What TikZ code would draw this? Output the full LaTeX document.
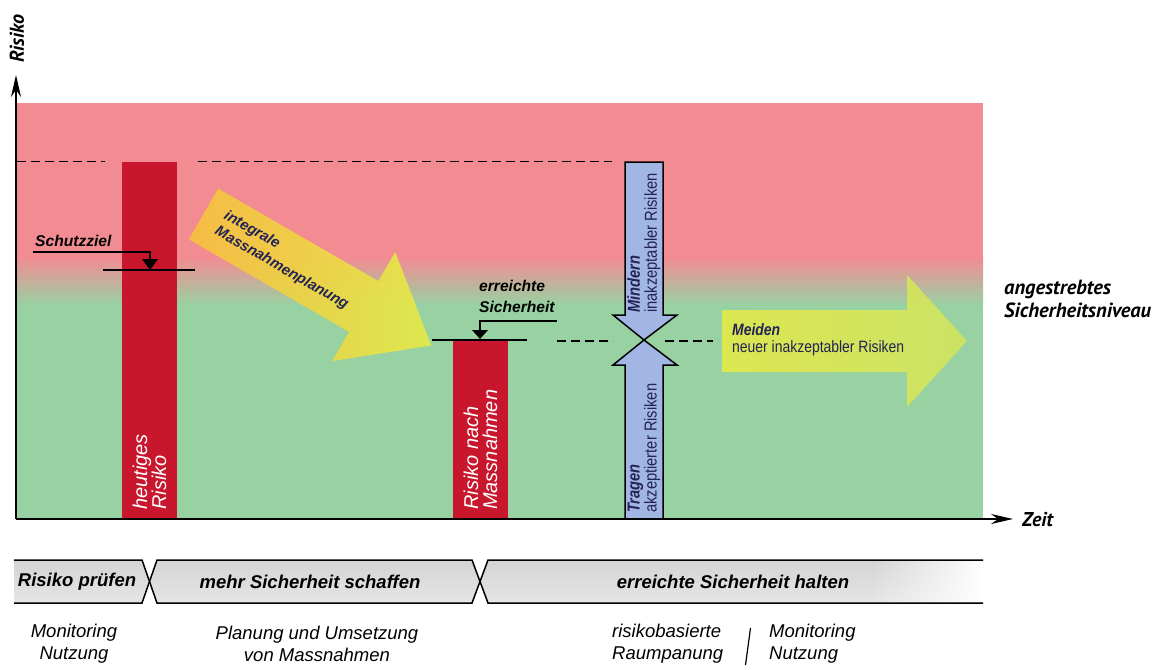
\documentclass[tikz,border=0pt]{standalone}
\usepackage{fontspec}
\setmainfont{Liberation Sans}
\newfontfamily\narrowfont[FakeStretch=0.85]{Liberation Sans}
\newfontfamily\labelfont{PT Sans}
\usetikzlibrary{arrows.meta,fadings}
\definecolor{riskred}{RGB}{242,140,146}
\definecolor{safegreen}{RGB}{152,210,163}
\definecolor{barred}{RGB}{200,22,45}
\definecolor{navy}{RGB}{35,35,85}
\definecolor{blueflow}{RGB}{162,182,228}
\definecolor{amber}{RGB}{247,192,62}
\definecolor{lemon}{RGB}{228,234,72}
\newcommand\setsize[2]{\fontsize{#1}{#2}\selectfont}

\begin{document}
\begin{tikzpicture}[x=1pt,y=-1pt,
  riskbar/.style={fill=barred},
  bartext/.style={rotate=90, anchor=west, align=left, inner sep=0pt, text=white,
    font=\setsize{20}{19}\itshape},
  level/.style={line width=2pt},
  marker/.style={line width=1.3pt},
  dashline/.style={line width=1.3pt, dash pattern=on 9pt off 5pt},
  tag/.style={inner sep=0pt, font=\setsize{15.6}{21}\bfseries\itshape},
  flowtext/.style={inner sep=0pt, align=left, text=navy, font=\narrowfont\setsize{17.3}{17}},
  bandline/.style={line width=1.5pt},
  bandfill/.style={top color=gray!34, bottom color=gray!20},
  phase/.style={inner sep=0pt, font=\setsize{18.5}{22}\bfseries\itshape},
  task/.style={inner sep=0pt, font=\setsize{18.5}{22}\itshape},
  axis/.style={line width=2pt, -{Stealth[length=22pt, width=10pt]}},
  axislabel/.style={inner sep=0pt, font=\labelfont\setsize{20}{22}\bfseries\itshape}
]
\useasboundingbox (0,0) rectangle (1155,669);

% risk field: red above, green below the target level
\fill[riskred] (16,103) rectangle (983,258);
\shade[top color=riskred, bottom color=safegreen] (16,257.5) rectangle (983,305.5);
\fill[safegreen] (16,305) rectangle (983,519);

% reference levels
\draw[dashline] (17,161.5) -- (105,161.5);
\draw[dashline] (198,161.5) -- (612,161.5);
\draw[dashline] (557,341) -- (613,341);
\draw[dashline] (665,341) -- (713,341);

% integrated planning arrow
\coordinate (tail) at (203.5,214);
\begin{scope}[shift={(tail)}, x={(0.866pt,-0.5pt)}, y={(0.5pt,0.866pt)}]
  \shade[left color=amber, right color=lemon, fill opacity=0.92]
    (0,29.3) -- (185,29.3) -- (185,63) -- (263,0) -- (185,-63) -- (185,-29.3) -- (0,-29.3) -- cycle;
  \node[rotate=-30, anchor=west, align=left, inner sep=0pt, text=navy,
    font=\setsize{14.8}{18}\bfseries\itshape] (planning) at (19,1) {integrale\\Massnahmenplanung};
\end{scope}

% risk bars
\fill[riskbar] (122,162) rectangle (177,519);
\node[bartext] (today) at (149.5,510) {heutiges\\Risiko};
\fill[riskbar] (453,340) rectangle (508,519);
\node[bartext] (after) at (480.5,510) {Risiko nach\\Massnahmen};

% protection goal
\node[tag, anchor=base west] (goal) at (35,246) {Schutzziel};
\coordinate (goalline) at (150,270);
\draw[marker] (33,252) -| (150,261);
\fill (142,259) -- (158,259) -- (goalline) -- cycle;
\draw[level] (103,270) -- (195,270);

% achieved safety
\node[tag, anchor=west, align=left] (achieved) at (479,296.5) {erreichte\\Sicherheit};
\coordinate (achline) at (480,339);
\draw[marker] (557,321) -| (480,331);
\fill (472,330) -- (488,330) -- (achline) -- cycle;
\draw[level] (432,340) -- (527,340);

% reduce / bear double arrow
\filldraw[fill=blueflow, line width=1.5pt, line join=miter]
  (625,162) -- (663,162) -- (663,315) -- (677,315) -- (644,340) -- (613,315) -- (625,315) -- cycle;
\filldraw[fill=blueflow, line width=1.5pt, line join=miter]
  (644,340) -- (677,365) -- (663,365) -- (663,519) -- (625,519) -- (625,365) -- (613,365) -- cycle;
\node[flowtext, rotate=90, anchor=west] (reduce) at (644,313)
  {{\bfseries\itshape Mindern}\\inakzeptabler Risiken};
\node[flowtext, rotate=90, anchor=west] (bear) at (644,513)
  {{\bfseries\itshape Tragen}\\akzeptierter Risiken};

% avoid arrow
\shade[left color=lemon, right color=lemon!75!safegreen, fill opacity=0.9]
  (722,310) -- (907,310) -- (907,275) -- (967,341) -- (907,407) -- (907,372) -- (722,372) -- cycle;
\node[flowtext, anchor=west, font=\narrowfont\setsize{16.4}{17.5}] (avoid) at (732,340)
  {{\bfseries\itshape Meiden}\\neuer inakzeptabler Risiken};

% target level label
\node[axislabel, anchor=west, align=left, font=\labelfont\setsize{20.5}{23}\bfseries\itshape] (target) at (1004,299)
  {angestrebtes\\Sicherheitsniveau};

% axes
\coordinate (origin) at (16,519);
\coordinate (ytip) at (16,75);
\coordinate (xtip) at (1013,519);
\draw[axis] (origin) -- (ytip);
\draw[axis] (origin) -- (xtip);
\node[axislabel, rotate=90, anchor=west] (ylab) at (17,63) {Risiko};
\node[axislabel, anchor=west] (xlab) at (1022,520) {Zeit};

% phase band
\shade[bandfill] (14,560) -- (142,560) -- (149.5,581.5) -- (142,603) -- (14,603) -- cycle;
\shade[bandfill] (157,560) -- (472,560) -- (480,581.5) -- (472,603) -- (157,603) -- (149.5,581.5) -- cycle;
\shade[bandfill] (983,560) -- (488,560) -- (480,581.5) -- (488,603) -- (983,603) -- cycle;
\fill[white, path fading=west] (870,561) rectangle (984,602);
\draw[bandline] (14,560) -- (142,560) -- (149.5,581.5) -- (142,603) -- (14,603);
\draw[bandline] (157,560) -- (472,560) -- (480,581.5) -- (472,603) -- (157,603) -- (149.5,581.5) -- cycle;
\draw[bandline] (983,560) -- (488,560) -- (480,581.5) -- (488,603) -- (983,603);

\node[phase] (check) at (77,582) {Risiko prüfen};
\node[phase] (create) at (310,582) {mehr Sicherheit schaffen};
\node[phase] (keep) at (733,582) {erreichte Sicherheit halten};

\node[task, align=center] (t1) at (74,644) {Monitoring\\Nutzung};
\node[task, align=center] (t2) at (317,644) {Planung und Umsetzung\\von Massnahmen};
\node[task, align=left, anchor=west] (t3) at (612,644) {risikobasierte\\Raumpanung};
\node[task, align=left, anchor=west] (t4) at (769,644) {Monitoring\\Nutzung};
\draw[line width=1.2pt] (750.5,628) -- (745.5,665);
\end{tikzpicture}
\end{document}
